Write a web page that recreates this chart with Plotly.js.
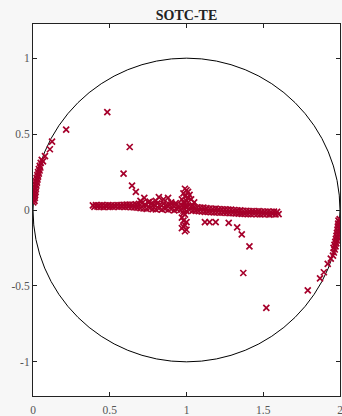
<!DOCTYPE html>
<html><head><meta charset="utf-8">
<script src="https://cdn.plot.ly/plotly-3.0.1.min.js"></script>
<style>html,body{margin:0;padding:0;background:#f7f7f7;}#chart{width:342px;height:416px;}</style>
</head><body><div id="chart"></div>
<script>
// Left arc cluster (near x=0)
const arcLeftX = [0.002,0.003,0.005,0.007,0.009,0.012,0.015,0.019,0.023,0.028,0.033,0.038,0.044,0.050,0.057,
                  0.010,0.012,0.014,0.017,0.019,0.022,0.026,0.029,0.033,0.038,0.043,0.048];
const arcLeftY = [0.05,0.07,0.09,0.11,0.13,0.15,0.17,0.19,0.21,0.23,0.25,0.27,0.29,0.31,0.33,
                  0.06,0.08,0.10,0.12,0.14,0.16,0.18,0.20,0.22,0.24,0.26,0.28];
// Right arc cluster (near x=2)
const arcRightX = [1.998,1.997,1.995,1.993,1.990,1.987,1.984,1.980,1.976,1.971,1.966,1.960,1.954,
                   1.990,1.988,1.986,1.983,1.980,1.977,1.973,1.969,1.964,1.958];
const arcRightY = [-0.06,-0.08,-0.10,-0.12,-0.14,-0.16,-0.18,-0.20,-0.22,-0.24,-0.26,-0.28,-0.30,
                   -0.07,-0.09,-0.11,-0.13,-0.15,-0.17,-0.19,-0.21,-0.23,-0.25];
// Main band, upper row
const bandUpX = [0.39,0.41,0.43,0.45,0.47,0.49,0.51,0.53,0.55,0.57,0.59,0.61,0.63,0.65,0.67,0.69,0.71,0.73,0.75,0.77,
                 0.79,0.81,0.83,0.85,0.87,0.89,0.91,0.93,0.95,0.97,0.99,1.01,1.03,1.05,1.07,1.09,1.11,1.13,1.15,1.17,
                 1.19,1.21,1.23,1.25,1.27,1.29,1.31,1.33,1.35,1.37,1.39,1.41,1.43,1.45,1.47,1.49,1.51,1.53,1.55,1.57,1.59];
const bandUpY = [0.031,0.032,0.030,0.033,0.031,0.032,0.030,0.031,0.033,0.032,0.034,0.035,0.036,0.034,0.037,0.040,0.045,0.038,0.050,0.042,
                 0.036,0.044,0.038,0.040,0.035,0.034,0.030,0.032,0.028,0.030,0.026,0.025,0.022,0.020,0.018,0.016,0.015,0.012,0.010,0.008,
                 0.009,0.006,0.005,0.004,0.003,0.002,0.000,-0.002,-0.003,-0.005,-0.006,-0.007,-0.008,-0.009,-0.008,-0.010,-0.011,-0.010,-0.012,-0.011,-0.012];
// Main band, lower row
const bandLoX = [0.40,0.42,0.44,0.46,0.48,0.50,0.52,0.54,0.56,0.58,0.60,0.62,0.64,0.66,0.68,0.70,0.72,0.74,0.76,0.78,
                 0.80,0.82,0.84,0.86,0.88,0.90,0.92,0.94,0.96,0.98,1.00,1.02,1.04,1.06,1.08,1.10,1.12,1.14,1.16,1.18,
                 1.20,1.22,1.24,1.26,1.28,1.30,1.32,1.34,1.36,1.38,1.40,1.42,1.44,1.46,1.48,1.50,1.52,1.54,1.56,1.58,1.60];
const bandLoY = [0.020,0.022,0.021,0.019,0.022,0.020,0.021,0.023,0.020,0.022,0.021,0.020,0.018,0.017,0.015,0.012,0.010,0.008,0.012,0.006,
                 0.004,0.010,0.002,0.008,0.000,0.005,-0.002,0.004,0.000,-0.005,-0.008,0.000,-0.004,-0.006,-0.008,-0.010,-0.012,-0.012,-0.014,-0.015,
                 -0.016,-0.018,-0.017,-0.019,-0.020,-0.021,-0.022,-0.024,-0.025,-0.026,-0.027,-0.028,-0.026,-0.028,-0.029,-0.027,-0.028,-0.030,-0.028,-0.029,-0.027];
// Vertical spike near x=1
const spikeX = [0.99,1.00,1.01,0.98,1.02,0.99,1.01,0.97,1.00,0.98,0.99,0.97,1.00,0.98,0.99,0.97,0.98,1.00,0.99,0.98,0.97,0.99,1.00,1.03,1.05,1.04];
const spikeY = [0.14,0.13,0.12,0.11,0.10,0.09,0.08,0.07,0.06,0.05,0.045,0.03,0.02,-0.02,-0.03,-0.05,-0.07,-0.08,-0.10,-0.11,-0.12,-0.14,-0.13,0.07,0.05,0.03];
// Scattered points
const outX = [0.484,0.63,0.59,0.645,0.67,0.725,0.82,0.85,0.88,0.70,0.76,0.80,0.90,0.93,
              1.12,1.15,1.19,1.275,1.33,1.36,1.41,1.37,1.52,1.79,1.87,1.895,1.92,1.94,
              0.216,0.124,0.11,0.078,0.065];
const outY = [0.645,0.415,0.24,0.16,0.12,0.08,0.085,0.07,0.08,0.06,0.055,0.06,0.05,0.045,
              -0.08,-0.08,-0.08,-0.085,-0.115,-0.16,-0.24,-0.415,-0.645,-0.53,-0.45,-0.41,-0.355,-0.32,
              0.53,0.45,0.40,0.355,0.32];

const xs = [].concat(arcLeftX, arcRightX, bandUpX, bandLoX, spikeX, outX);
const ys = [].concat(arcLeftY, arcRightY, bandUpY, bandLoY, spikeY, outY);

const red = '#a6002b';
const trace = {
  x: xs, y: ys, type: 'scatter', mode: 'markers',
  marker: {symbol: 'x-thin-open', size: 6, color: red, line: {color: red, width: 1.7}},
  hoverinfo: 'skip', showlegend: false
};

const tickFont = {family: 'Liberation Serif, DejaVu Serif, serif', size: 11.5, color: '#555'};
const layout = {
  width: 342, height: 416,
  margin: {l: 33, r: 2, t: 24, b: 20, pad: 0},
  paper_bgcolor: '#f7f7f7', plot_bgcolor: '#ffffff',
  title: {text: '<b>SOTC-TE</b>', x: 0.5, xref: 'paper', xanchor: 'center', y: 1, yref: 'paper', yanchor: 'bottom',
          pad: {b: 4}, font: {family: 'Liberation Serif, DejaVu Serif, serif', size: 14, color: '#222'}},
  xaxis: {range: [0, 2], tickvals: [0, 0.5, 1, 1.5, 2], ticktext: ['0','0.5','1','1.5','2'],
          ticks: 'inside', ticklen: 4, tickcolor: '#222', showline: true, linecolor: '#222', linewidth: 1,
          mirror: 'allticks', showgrid: false, zeroline: false, tickfont: tickFont,
          ticklabeloverflow: 'allow', ticklabelstandoff: 3},
  yaxis: {range: [-1.225, 1.225], tickvals: [-1, -0.5, 0, 0.5, 1], ticktext: ['-1','-0.5','0','0.5','1'],
          ticks: 'inside', ticklen: 4, tickcolor: '#222', showline: true, linecolor: '#222', linewidth: 1,
          mirror: 'allticks', showgrid: false, zeroline: false, tickfont: tickFont},
  shapes: [{type: 'circle', xref: 'x', yref: 'y', x0: 0, x1: 2, y0: -1, y1: 1,
            line: {color: '#000', width: 1}, layer: 'below'}]
};
Plotly.newPlot('chart', [trace], layout, {displayModeBar: false, staticPlot: true});
</script></body></html>
